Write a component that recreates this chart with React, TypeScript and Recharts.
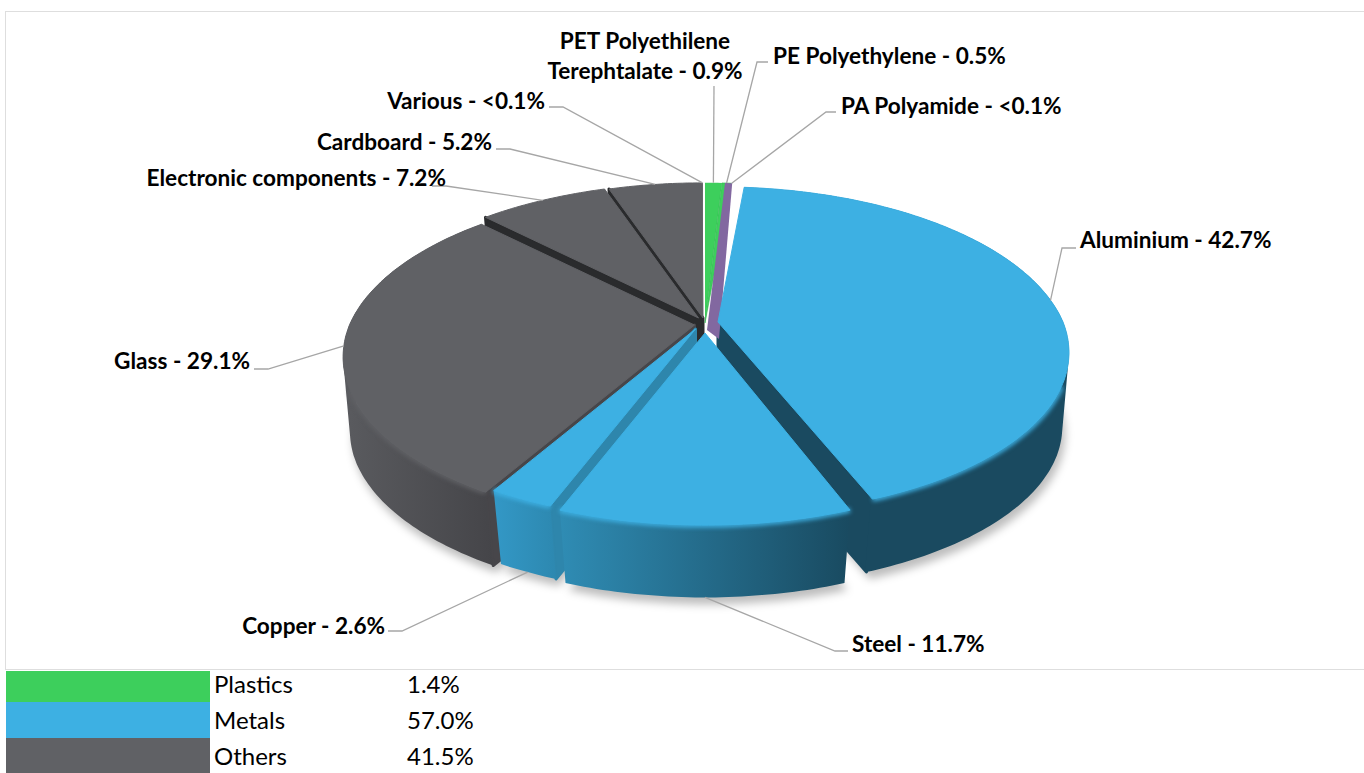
import React from "react";
import { PieChart, Pie } from "recharts";

// ---- data ----
const sliceNames = ["PET", "PE", "PA", "Aluminium", "Steel", "Copper", "Glass", "Electronic", "Cardboard", "Various"];
const sliceValues = [0.9, 0.5, 0.05, 42.7, 11.7, 2.6, 29.1, 7.2, 5.2, 0.05];
const sliceLabels = [
  ["PET Polyethilene", "Terephtalate - 0.9%"],
  ["PE Polyethylene - 0.5%"],
  ["PA Polyamide - <0.1%"],
  ["Aluminium - 42.7%"],
  ["Steel - 11.7%"],
  ["Copper - 2.6%"],
  ["Glass - 29.1%"],
  ["Electronic components - 7.2%"],
  ["Cardboard - 5.2%"],
  ["Various - <0.1%"],
];
const groupNames = ["Plastics", "Metals", "Others"];
const groupValues = ["1.4%", "57.0%", "41.5%"];

// ---- styles ----
const GREEN = "#3DCF5C";
const BLUE = "#3DB0E3";
const GRAY = "#606165";
const PURPLE = "#8268A0";
const groupColors = [GREEN, BLUE, GRAY];
const groupBands = [[671, 702], [702, 738], [738, 773]];
const topColors = [GREEN, GREEN, GREEN, BLUE, BLUE, BLUE, GRAY, GRAY, GRAY, GRAY];
const wallFrom = [GREEN, GREEN, GREEN, "#1A4A60", "#2F8CB4", "#3398C6", "#5A5B5F", "#2A2B2D", "#2A2B2D", "#2A2B2D"];
const wallTo = [GREEN, GREEN, GREEN, "#1A4A60", "#194A60", "#2D88B0", "#454549", "#2A2B2D", "#2A2B2D", "#2A2B2D"];
const faceColors = ["", "", "", "#1A4A60", "", "#2E86AC", "#47464A", "#2A2B2D", "#2A2B2D", ""];
const faceSide = ["", "", "", "end", "", "start", "start", "start", "start", ""];
// per-slice exploded offset and perspective strength (back half, front half)
const offsetX = [0, 0, 0, 13, 0, -9.5, -10.5, -6.5, -2, -2];
const offsetY = [0, 0, 0, -1, 10, 6, 2, -5, -5, -5];
const perspBack = [0.156, 0.156, 0.156, 0.2, 0.156, 0.156, 0.2, 0.2, 0.2, 0.2];
const perspFront = [0.156, 0.156, 0.156, 0.156, 0.156, 0.156, 0.19, 0.2, 0.2, 0.2];
const frontShift = [0, 0, 0, 10, 0, 0, 0, 0, 0, 0];
const onBase = [false, false, false, false, true, true, false, false, false, false];
const faceOrder = [8, 7, 6, 5, 3];

// label layout: text anchor point, line start x, elbow x, elbow y
const labelLayout = [
  { x: 645, y: 41, a: "middle", sx: 714, ex: 714, ey: 86 },
  { x: 773, y: 56, a: "start", sx: 768, ex: 757, ey: 62 },
  { x: 841, y: 106, a: "start", sx: 836, ex: 826, ey: 112 },
  { x: 1080, y: 240, a: "start", sx: 1076, ex: 1062, ey: 248 },
  { x: 852, y: 644, a: "start", sx: 848, ex: 835, ey: 651 },
  { x: 385, y: 626, a: "end", sx: 388, ex: 402, ey: 631 },
  { x: 250, y: 361, a: "end", sx: 254, ex: 268, ey: 369 },
  { x: 446, y: 178, a: "end", sx: 432, ex: 446, ey: 186 },
  { x: 492, y: 142, a: "end", sx: 496, ex: 510, ey: 149 },
  { x: 545, y: 101, a: "end", sx: 549, ex: 563, ey: 107 },
];

const rows = sliceNames.map((name, i) => ({ name, value: sliceValues[i], id: i }));

const TILT = 0.47;
const DEPTH = 80;

function proj(deg: number, R: number, id: number) {
  const t = (deg * Math.PI) / 180;
  const c = Math.cos(t);
  const s = 1 / (1 + (c > 0 ? perspBack[id] : perspFront[id]) * c);
  return [R * Math.sin(t) * s + (c < 0 ? frontShift[id] * -c : 0), -R * TILT * c * s];
}
function geom(p: any) {
  const id = p.payload?.id ?? p.id;
  const a = 90 - p.startAngle;
  const b = 90 - p.endAngle;
  const ax = p.cx + offsetX[id];
  const ay = p.cy + offsetY[id];
  const R = p.outerRadius;
  const top = (d: number) => {
    const [x, y] = proj(d, R, id);
    return [ax + x, ay + y];
  };
  const bot = (d: number) => {
    const [x, y] = proj(d, R, id);
    const c = Math.abs(Math.cos((d * Math.PI) / 180));
    return [ax + x * (0.985 - 0.025 * c), ay + y * 0.96 + DEPTH];
  };
  return { id, a, b, ax, ay, top, bot };
}
function arc(a: number, b: number, f: (d: number) => number[]) {
  const n = Math.max(2, Math.ceil(Math.abs(b - a)));
  const pts: number[][] = [];
  for (let i = 0; i <= n; i++) pts.push(f(a + ((b - a) * i) / n));
  return pts;
}
const toPath = (pts: number[][], close = true) =>
  pts.map((q, i) => `${i ? "L" : "M"}${q[0].toFixed(1)},${q[1].toFixed(1)}`).join("") + (close ? "Z" : "");

// swept side of a slice: every small quad between the top rim and the base rim, wound the same way
function sweep(g: any) {
  const tops = arc(g.a, g.b, g.top);
  const bots = arc(g.a, g.b, g.bot);
  let d = "";
  for (let i = 0; i < tops.length - 1; i++) {
    const q = [tops[i], tops[i + 1], bots[i + 1], bots[i]];
    let area = 0;
    for (let j = 0; j < 4; j++) {
      const m = q[j];
      const n = q[(j + 1) % 4];
      area += m[0] * n[1] - n[0] * m[1];
    }
    d += toPath(area < 0 ? [...q].reverse() : q);
  }
  return d;
}

function ShadowShape(p: any) {
  const g = geom(p);
  if (g.id < 3 || g.id > 6) return <g />;
  const pts = [...arc(g.a, g.b, g.bot), [g.ax, g.ay + DEPTH]];
  return <path d={toPath(pts)} fill="#000" fillOpacity={0.26} transform="translate(3,7)" style={{ filter: "blur(4px)" }} />;
}
function makeFaceShape(only: number) {
  return function FaceShape(p: any) {
    const g = geom(p);
    if (g.id !== only) return <g />;
    const d = faceSide[g.id] === "start" ? g.a : g.b;
    const pts = [[g.ax, g.ay], g.top(d), g.bot(d), [g.ax, g.ay + DEPTH]];
    return <path d={toPath(pts)} fill={faceColors[g.id]} stroke={faceColors[g.id]} strokeWidth={3} strokeLinejoin="round" />;
  };
}
function WallShape(p: any) {
  const g = geom(p);
  if (g.id < 3 || g.id > 6) return <g />;
  const gid = `wall-${g.id}`;
  return (
    <g>
      <defs>
        <linearGradient id={gid} x1="0" y1="0" x2="1" y2="0">
          <stop offset="0" stopColor={wallFrom[g.id]} />
          <stop offset="1" stopColor={wallTo[g.id]} />
        </linearGradient>
      </defs>
      <path d={sweep(g)} fillRule="nonzero" fill={`url(#${gid})`} stroke="none" />
    </g>
  );
}
function TopShape(p: any) {
  const g = geom(p);
  const fill = topColors[g.id];
  if (g.id === 2) {
    const pts = [g.top(g.a - 1.2), g.top(g.b), [g.ax + 14, g.ay + 16], [g.ax + 2, g.ay + 7]];
    return <path d={toPath(pts)} fill={PURPLE} />;
  }
  const pts = [...arc(g.a, g.b, g.top), [g.ax, g.ay]];
  const small = g.id < 3 || g.id === 9;
  const from = Math.max(g.a, 112);
  const to = Math.min(g.b, 248);
  return (
    <g>
      {g.id >= 3 && g.id <= 6 && to > from ? (
        <path d={toPath(arc(from, to, g.top), false)} fill="none" stroke={fill} strokeWidth={5} style={{ filter: "blur(2px)" }} />
      ) : null}
      <path
        d={toPath(pts)}
        fill={fill}
        stroke={g.id === 1 ? "#35B552" : small ? "none" : fill}
        strokeWidth={small ? 0.6 : 1}
        strokeLinejoin="round"
      />
    </g>
  );
}

function renderLabel(p: any) {
  const id = p.payload?.id ?? p.index ?? p.id;
  const g = geom({ ...p, payload: { id } });
  const lay = labelLayout[id];
  const mid = (g.a + g.b) / 2;
  const end = onBase[id] ? g.bot(mid) : g.top(mid);
  const lines = sliceLabels[id];
  const line =
    id === 0
      ? `M${lay.ex},${lay.ey}L${end[0].toFixed(1)},${end[1].toFixed(1)}`
      : `M${lay.sx},${lay.ey}L${lay.ex},${lay.ey}L${end[0].toFixed(1)},${end[1].toFixed(1)}`;
  return (
    <g key={`lab-${id}`}>
      <path d={line} fill="none" stroke="#A6A6A6" strokeWidth={1.3} />
      <text
        x={lay.x}
        textAnchor={lay.a as any}
        fontFamily="Lato, sans-serif"
        fontWeight={700}
        fontSize={22.6}
        fill="#000"
        stroke="none"
      >
        {lines.map((t, i) => (
          <tspan key={i} x={lay.x} y={lay.y + 8 + i * 30}>
            {t}
          </tspan>
        ))}
      </text>
    </g>
  );
}

const pieBase = {
  data: rows,
  dataKey: "value",
  nameKey: "name",
  cx: 705,
  cy: 323,
  outerRadius: 345,
  startAngle: 90,
  endAngle: -270,
  paddingAngle: 0,
  stroke: "none",
  isAnimationActive: false,
  legendType: "none",
} as any;

function passProps(S: any) {
  return { shape: S, inactiveShape: S, activeShape: S };
}

export default function App() {
  return (
    <div style={{ position: "absolute", left: 0, top: 0, width: 1364, height: 773, overflow: "hidden", background: "#fff" }}>
      <div
        style={{
          position: "absolute",
          left: 5,
          top: 11,
          width: 1359,
          height: 659,
          borderLeft: "1.5px solid #DEDEDE",
          borderTop: "1.5px solid #DEDEDE",
          borderBottom: "1.5px solid #DEDEDE",
          boxSizing: "border-box",
        }}
      />
      <div style={{ position: "absolute", left: 0, top: 0 }}>
        <PieChart width={1364} height={773} margin={{ top: 0, right: 0, bottom: 0, left: 0 }}>
          <Pie {...pieBase} {...passProps(ShadowShape)} />
          {faceOrder.map((id) => (
            <Pie key={id} {...pieBase} {...passProps(makeFaceShape(id))} />
          ))}
          <Pie {...pieBase} {...passProps(WallShape)} />
          <Pie {...pieBase} {...passProps(TopShape)} label={renderLabel} labelLine={false} />
        </PieChart>
      </div>
      {groupNames.map((n, i) => (
        <React.Fragment key={n}>
          <div
            style={{
              position: "absolute",
              left: 6,
              top: groupBands[i][0],
              width: 204,
              height: groupBands[i][1] - groupBands[i][0],
              background: groupColors[i],
            }}
          />
          <div style={{ position: "absolute", left: 214, top: 666 + i * 36, height: 36, lineHeight: "36px", fontFamily: "Lato, sans-serif", fontSize: 24, color: "#000" }}>
            {n}
          </div>
          <div style={{ position: "absolute", left: 407, top: 666 + i * 36, height: 36, lineHeight: "36px", fontFamily: "Lato, sans-serif", fontSize: 24, color: "#000" }}>
            {groupValues[i]}
          </div>
        </React.Fragment>
      ))}
    </div>
  );
}
